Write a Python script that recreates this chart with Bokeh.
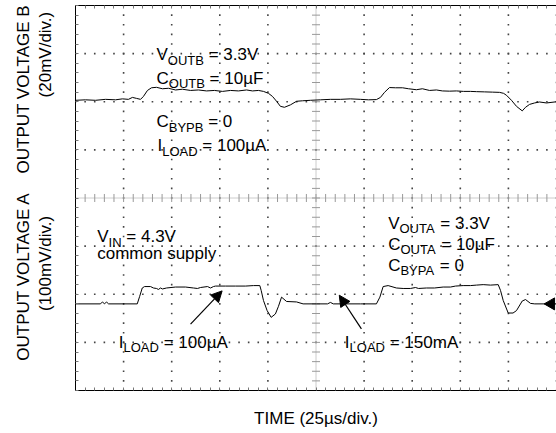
import numpy as np
from bokeh.plotting import figure
from bokeh.models import Range1d, LinearAxis, FixedTicker, Label, Arrow, NormalHead
from bokeh.embed import file_html
from bokeh.resources import INLINE

# ---------------- data ----------------
us_per_div = 25
n_xdiv = 10
n_ydiv = 8
minor_per_div = 5

# Output voltage B (20 mV/div), time in us, deviation in mV
b_time = [0, 5.2, 10.4, 15.6, 20.8, 24.4, 27.5, 29.6, 31.7, 33.8, 35.3, 37.4, 39.5, 42.1, 45.2,
          48.3, 52.0, 55.6, 59.8, 63.9, 68.1, 72.2, 76.4, 80.6, 84.7, 88.9, 92.0, 95.1, 97.7,
          100.3, 102.4, 104.5, 106.5, 108.6, 111.7, 114.9, 118.0, 122.1, 127.3, 132.5, 137.7,
          142.9, 148.1, 152.3, 156.4, 158.5, 160.6, 163.2, 166.3, 170.0, 173.1, 177.2, 180.3,
          184.0, 187.6, 190.7, 194.4, 198.0, 201.7, 205.3, 208.4, 212.6, 216.7, 220.4, 222.5,
          224.0, 226.6, 229.2, 232.2, 233.9, 236.0, 238.6, 241.2, 244.8, 250.0]
b_mv = [0.6, 0.8, 0.6, 1.0, 0.8, 1.2, 1.0, 1.8, 1.4, 1.0, 2.2, 4.7, 5.8, 6.0, 5.4,
        5.6, 4.9, 5.2, 4.7, 4.9, 4.5, 4.7, 4.3, 4.7, 4.5, 4.9, 4.5, 4.7, 4.3,
        3.5, 2.2, 0.2, -1.9, -2.3, -1.3, 0.2, 0.4, 0.6, 0.8, 1.0, 1.0,
        1.2, 1.0, 0.8, 0.9, 1.8, 3.9, 5.9, 5.8, 5.8, 5.4, 5.0, 5.4,
        4.7, 4.9, 4.5, 4.4, 4.5, 4.3, 4.3, 4.2, 4.1, 4.0, 3.9, 3.5,
        2.7, 0.6, -1.9, -3.8, -2.3, -1.1, -0.5, -0.1, -0.5, 0.0]
b_offset_div = 6.0
b_mv_per_div = 20

# Output voltage A (100 mV/div)
a_time = [0, 13.0, 14.0, 15.1, 16.1, 17.2, 32.1, 33.3, 34.7, 35.9, 39.0, 40.5, 42.1, 43.1,
          44.2, 45.2, 47.3, 52.0, 57.2, 61.3, 63.4, 65.0, 68.6, 70.2, 71.7, 72.8, 78.0, 83.2,
          88.4, 92.5, 95.8, 96.5, 97.7, 99.6, 101.7, 103.9, 105.5, 107.1, 109.7, 114.9,
          118.3, 125.3, 131.0, 132.5, 134.0, 140.3, 148.1, 156.4, 158.2, 159.9, 162.5,
          166.8, 170.3, 174.1, 176.7, 178.3, 182.4, 186.6, 191.1, 194.9, 197.5, 201.5,
          205.3, 208.4, 211.9, 215.7, 219.7, 220.9, 222.3, 224.9, 227.4, 229.2, 232.2,
          233.9, 236.5, 238.7, 250.0]
a_mv = [0, 0, 4, 0, 4, 0, 0, 15, 33, 36, 36, 33, 32, 30,
        33, 31, 33, 35, 35, 33, 32, 34, 36, 33, 36, 37, 37, 37,
        37, 38, 38, 28, 7, -14, -28, -21, -5, 14, 5, 4,
        0, 0, 0, 3, 0, 0, 0, 0, 14, 36, 38,
        33, 32, 32, 34, 32, 33, 33, 35, 35, 37, 38,
        38, 39, 40, 39, 40, 28, 7, -19, -19, -14, 6,
        9, 1, 0, 0]
a_offset_div = 1.8
a_mv_per_div = 100
a_marker_time = 247.2

FONT = "Liberation Sans"

# annotations: (time_us, y_div, [(text, is_subscript), ...])
notes = [
    (42.1, 6.98, [("V", 0), ("OUTB", 1), (" = 3.3V", 0)]),
    (42.1, 6.49, [("C", 0), ("OUTB", 1), (" = 10µF", 0)]),
    (42.1, 5.58, [("C", 0), ("BYPB", 1), (" = 0", 0)]),
    (42.6, 5.09, [("I", 0), ("LOAD", 1), (" = 100µA", 0)]),
    (11.3, 3.19, [("V", 0), ("IN", 1), (" = 4.3V", 0)]),
    (11.3, 2.84, [("common supply", 0)]),
    (22.5, 1.00, [("I", 0), ("LOAD", 1), (" = 100µA", 0)]),
    (162.5, 3.48, [("V", 0), ("OUTA", 1), (" = 3.3V", 0)]),
    (162.5, 3.04, [("C", 0), ("OUTA", 1), (" = 10µF", 0)]),
    (162.5, 2.60, [("C", 0), ("BYPA", 1), (" = 0", 0)]),
    (140.0, 1.00, [("I", 0), ("LOAD", 1), (" = 150mA", 0)]),
]
# arrows: (t_start, y_start, t_end, y_end)
arrows = [(59.8, 1.38, 76.2, 2.07), (148.6, 1.28, 137.1, 1.98)]

x_label = "TIME (25µs/div.)"
y_outer_labels = {6.26: "OUTPUT VOLTAGE B", 2.37: "OUTPUT VOLTAGE A"}
y_inner_labels = {6.98: "(20mV/div.)", 2.64: "(100mV/div.)"}

# ---------------- figure ----------------
x_max = us_per_div * n_xdiv
p = figure(width=556, height=433, output_backend="svg", toolbar_location=None,
           x_range=Range1d(0, x_max), y_range=Range1d(0, n_ydiv),
           min_border_left=75, min_border_right=0, min_border_top=5, min_border_bottom=43,
           background_fill_color="white", border_fill_color="white")
p.outline_line_color = None
p.grid.visible = False

x_major = np.arange(0, n_xdiv + 1) * us_per_div
x_minor = np.arange(0, n_xdiv * minor_per_div + 1) * us_per_div / minor_per_div
y_major = np.arange(0, n_ydiv + 1).astype(float)
y_minor = np.arange(0, n_ydiv * minor_per_div + 1) / minor_per_div

TICK_C = "#777777"


def style_axis(ax):
    ax.major_tick_in = 0
    ax.major_tick_out = 0
    ax.minor_tick_in = 3
    ax.minor_tick_out = 0
    ax.major_tick_line_color = None
    ax.minor_tick_line_color = TICK_C
    ax.axis_line_color = "black"
    ax.axis_line_width = 1
    ax.major_label_text_font = FONT
    ax.major_label_text_font_size = "17px"
    ax.major_label_text_color = "black"
    ax.axis_label_text_font = FONT
    ax.axis_label_text_font_size = "17px"
    ax.axis_label_text_font_style = "normal"
    ax.axis_label_text_color = "black"


# below axis: x label
bx = p.xaxis[0]
bx.ticker = FixedTicker(ticks=[], minor_ticks=list(x_minor))
style_axis(bx)
bx.axis_label = x_label
bx.axis_label_standoff = 18

# above axis
ax_top = LinearAxis(ticker=FixedTicker(ticks=[], minor_ticks=list(x_minor)))
style_axis(ax_top)
p.add_layout(ax_top, "above")

# inner left axis: per-div labels
ly = p.yaxis[0]
ly.ticker = FixedTicker(ticks=list(y_inner_labels.keys()), minor_ticks=list(y_minor))
style_axis(ly)
ly.major_label_overrides = {k: v for k, v in y_inner_labels.items()}
ly.major_label_orientation = "vertical"
ly.major_label_standoff = 20

# outer left axis: titles
lo = LinearAxis(ticker=FixedTicker(ticks=list(y_outer_labels.keys()), minor_ticks=[]))
style_axis(lo)
lo.axis_line_color = None
lo.minor_tick_line_color = None
lo.major_label_overrides = {k: v for k, v in y_outer_labels.items()}
lo.major_label_orientation = "vertical"
lo.major_label_standoff = 0
p.add_layout(lo, "left")

# dotted grid (dots at minor positions along major lines)
cx = x_major[n_xdiv // 2]
cy = y_major[n_ydiv // 2]
gx, gy = [], []
for yv in y_major[1:-1]:
    if yv == cy:
        continue
    gx += list(x_minor)
    gy += [yv] * len(x_minor)
for xv in x_major[1:]:
    if xv == cx:
        continue
    gx += [xv] * len(y_minor)
    gy += list(y_minor)
p.scatter(gx, gy, marker="square", size=1.6, color="#444444", line_width=0)

# centre cross with ticks
p.line([0, x_max], [cy, cy], line_color="#999999", line_dash="1 1", line_width=1)
p.line([cx, cx], [0, n_ydiv], line_color="#999999", line_dash="1 1", line_width=1)
tick_y = 4 / 48.1
tick_x = 4 * us_per_div / 48.1
p.segment(x0=x_minor, y0=cy - tick_y, x1=x_minor, y1=cy + tick_y, line_color="#999999", line_width=1)
p.segment(x0=cx - tick_x, y0=y_minor, x1=cx + tick_x, y1=y_minor, line_color="#999999", line_width=1)

# traces
b_y = b_offset_div + np.array(b_mv) / b_mv_per_div
a_y = a_offset_div + np.array(a_mv) / a_mv_per_div
p.line(b_time, b_y, line_color="black", line_width=1)
p.line(a_time, a_y, line_color="black", line_width=1)
p.scatter([a_marker_time], [a_offset_div], marker="triangle", angle=np.pi / 2, size=12,
          color="black")

# arrows
for (x0, y0, x1, y1) in arrows:
    p.add_layout(Arrow(end=NormalHead(size=11, fill_color="black", line_color="black"),
                       x_start=x0, y_start=y0, x_end=x1, y_end=y1,
                       line_color="black", line_width=1.2))

# rich annotations with subscripts
W = {'V': 667, 'C': 722, 'I': 278, 'O': 778, 'U': 722, 'T': 611, 'B': 667, 'Y': 667, 'P': 667,
     'A': 667, 'L': 556, 'D': 722, 'N': 722, ' ': 278, '=': 584, '.': 278, 'µ': 576, 'F': 611,
     'm': 833}


def tw(s, fs):
    return sum(W.get(c, 556) for c in s) / 1000.0 * fs


MAIN, SUB, DROP = 17, 13, 5.5
for (x, y, pieces) in notes:
    off = 0.0
    for txt, sub in pieces:
        fs = SUB if sub else MAIN
        stripped = txt.lstrip(" ")
        off += (len(txt) - len(stripped)) * W[' '] / 1000.0 * fs
        p.add_layout(Label(x=x, y=y, x_offset=off, y_offset=-DROP if sub else 0, text=stripped,
                           text_font=FONT, text_font_size=f"{fs}px", text_color="black",
                           text_baseline="alphabetic", text_align="left"))
        off += tw(stripped, fs)

open("out.html", "w").write(file_html(p, INLINE))
